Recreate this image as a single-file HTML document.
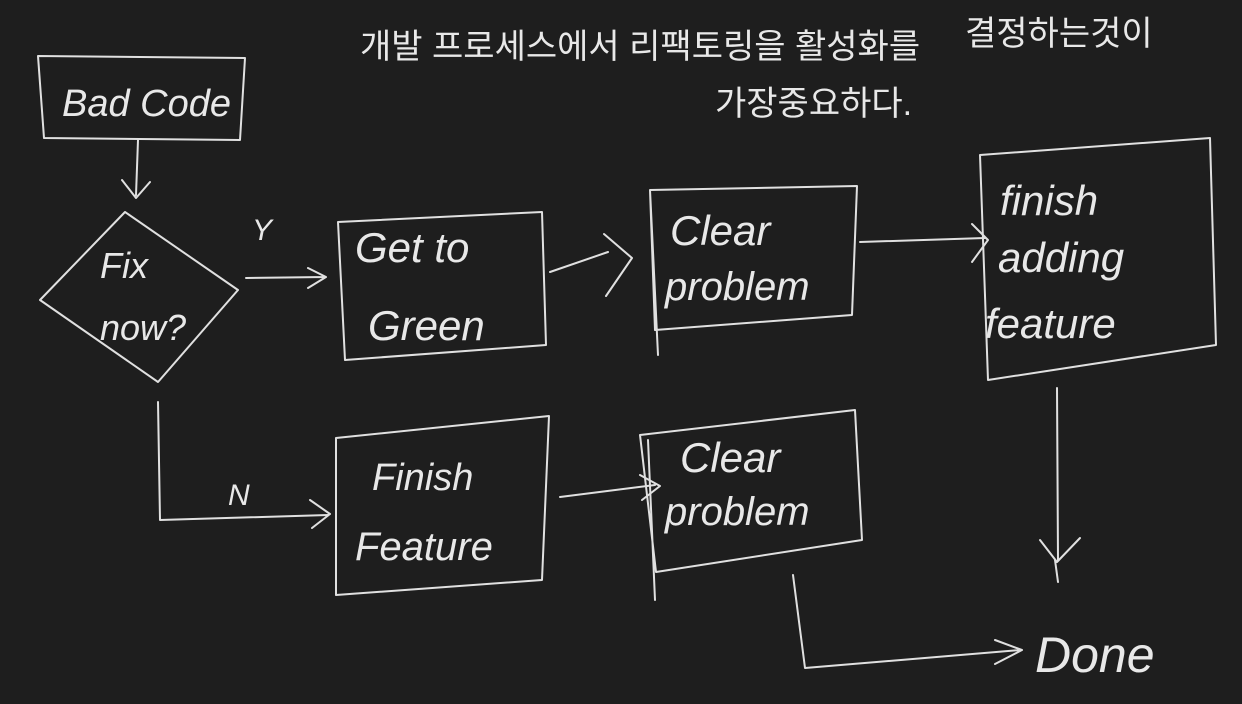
<!DOCTYPE html>
<html><head><meta charset="utf-8"><style>
html,body{margin:0;padding:0;background:#1e1e1e;}
svg{display:block}
text{fill:#e8e8e8;font-family:"Liberation Sans","Noto Sans CJK KR",sans-serif;}
.h{font-family:"Liberation Serif","Noto Sans CJK KR",serif;font-style:italic;}
</style></head><body>
<svg width="1242" height="704" viewBox="0 0 1242 704" xmlns="http://www.w3.org/2000/svg">
<rect width="1242" height="704" fill="#1e1e1e"/>
<g stroke="#e0e0e0" stroke-width="2" fill="none" stroke-linecap="round" stroke-linejoin="round">
<path d="M38 56 L245 58 L240 140 L44 138 Z"/>
<path d="M138 140 L136 195 M122 180 L136 198 L150 182"/>
<path d="M125 212 L238 290 L158 382 L40 300 Z"/>
<path d="M246 278 L325 277 M308 268 L326 277 L308 288"/>
<path d="M338 222 L542 212 L546 345 L345 360 Z"/>
<path d="M550 272 L608 252 M604 234 L632 258 L606 296"/>
<path d="M650 190 L857 186 L852 315 L655 330 Z M650 190 L658 355"/>
<path d="M860 242 L985 238 M972 224 L988 240 L972 262"/>
<path d="M980 155 L1210 138 L1216 345 L988 380 Z"/>
<path d="M1057 388 L1058 560 M1040 540 L1057 562 L1080 538 M1055 560 L1058 582"/>
<path d="M158 402 L160 520 L328 515 M310 500 L330 514 L312 528"/>
<path d="M336 438 L549 416 L542 580 L336 595 Z"/>
<path d="M560 497 L655 485 M640 475 L660 486 L642 500"/>
<path d="M640 435 L855 410 L862 540 L656 572 Z M648 440 L655 600"/>
<path d="M793 575 L805 668 L1020 650 M995 640 L1022 650 L995 664"/>
</g>
<g class="h">
<text x="62" y="116" font-size="38">Bad Code</text>
<text x="100" y="278" font-size="36">Fix</text>
<text x="100" y="340" font-size="36">now?</text>
<text x="252" y="240" font-size="30">Y</text>
<text x="228" y="505" font-size="30">N</text>
<text x="355" y="262" font-size="42">Get to</text>
<text x="368" y="340" font-size="42">Green</text>
<text x="670" y="245" font-size="42">Clear</text>
<text x="665" y="300" font-size="40">problem</text>
<text x="1000" y="215" font-size="42">finish</text>
<text x="998" y="272" font-size="42">adding</text>
<text x="985" y="338" font-size="42">feature</text>
<text x="372" y="490" font-size="38">Finish</text>
<text x="355" y="560" font-size="40">Feature</text>
<text x="680" y="472" font-size="42">Clear</text>
<text x="665" y="525" font-size="40">problem</text>
<text x="1035" y="672" font-size="50">Done</text>
<text x="360" y="58" font-size="34" style="font-style:normal">개발 프로세스에서 리팩토링을 활성화를</text>
<text x="965" y="45" font-size="34" style="font-style:normal">결정하는것이</text>
<text x="715" y="115" font-size="34" style="font-style:normal">가장중요하다.</text>
</g>
</svg>
</body></html>
